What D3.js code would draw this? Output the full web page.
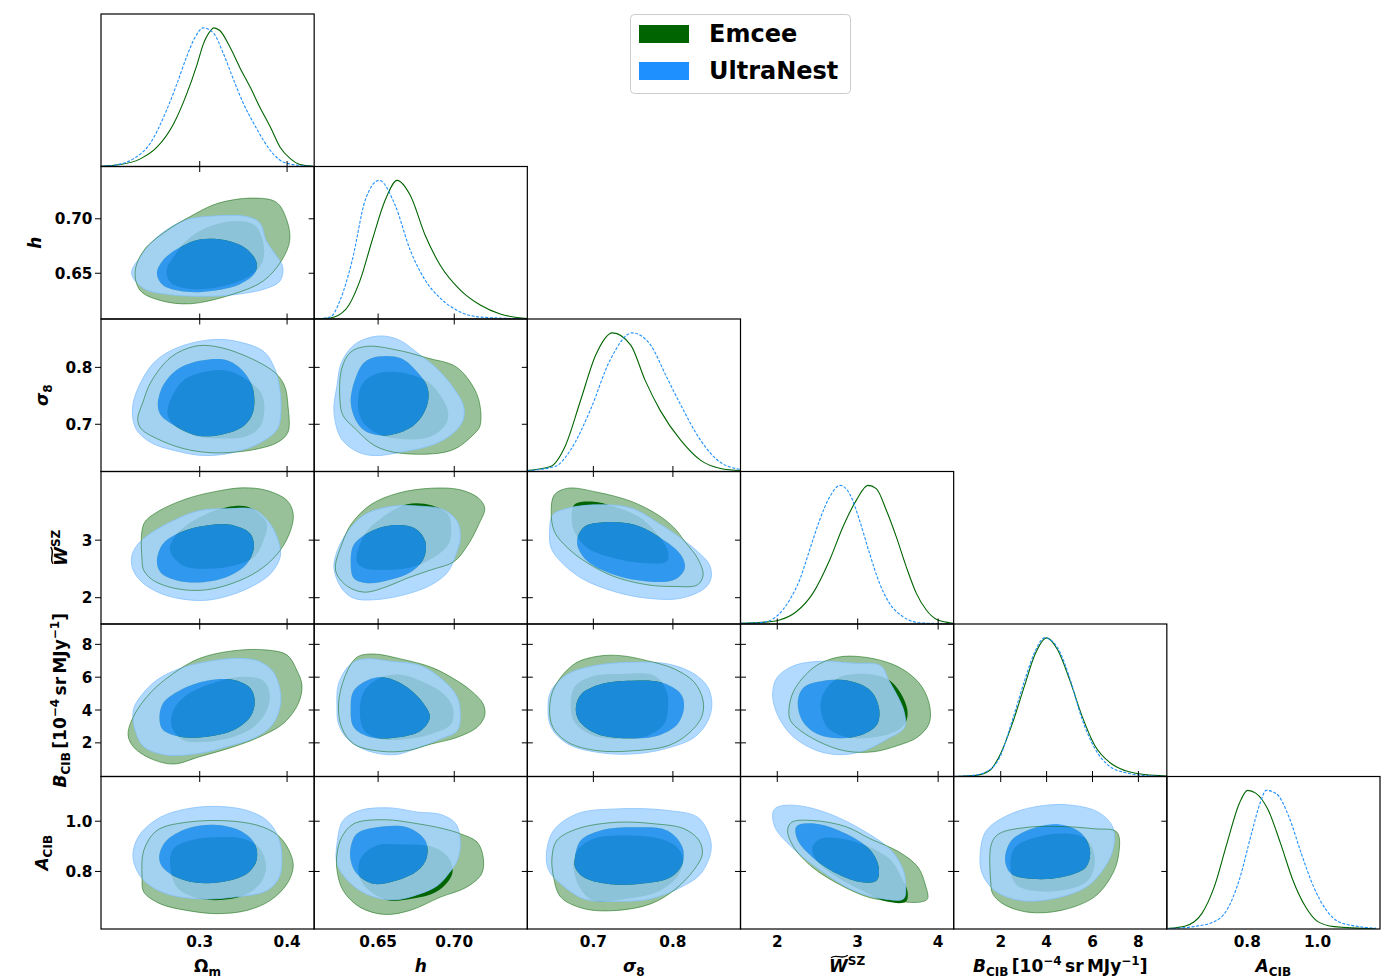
<!DOCTYPE html>
<html>
<head>
<meta charset="utf-8">
<script src="https://cdn.jsdelivr.net/npm/d3@7"></script>
<style>
  body { margin: 0; background: #fff; }
  text { font-family: "DejaVu Sans", sans-serif; font-weight: bold; }
</style>
</head>
<body>
<svg id="chart" width="1400" height="977"></svg>
<script>
// ---- parameters, ranges, ticks ----
const paramNames = ["om", "h", "s8", "w", "b", "a"];
const paramMin = [0.187, 0.608, 0.617, 1.543, -0.05, 0.571];
const paramMax = [0.431, 0.748, 0.885, 4.193, 9.24, 1.178];
const xTickValues = [[0.3, 0.4], [0.65, 0.70], [0.7, 0.8], [2, 3, 4], [2, 4, 6, 8], [0.8, 1.0]];
const xTickLabels = [["0.3", "0.4"], ["0.65", "0.70"], ["0.7", "0.8"], ["2", "3", "4"], ["2", "4", "6", "8"], ["0.8", "1.0"]];
const yTickValues = [[], [0.65, 0.70], [0.7, 0.8], [2, 3], [2, 4, 6, 8], [0.8, 1.0]];
const yTickLabels = [[], ["0.65", "0.70"], ["0.7", "0.8"], ["2", "3"], ["2", "4", "6", "8"], ["0.8", "1.0"]];
const seriesNames = ["Emcee", "UltraNest"];

// ---- 1D marginals (normalised to peak 1) ----
const om_emcee_x = [0.186, 0.209, 0.232, 0.251, 0.270, 0.285, 0.297, 0.304, 0.312, 0.316, 0.323, 0.335, 0.346, 0.358, 0.369, 0.381, 0.392, 0.404, 0.415, 0.430];
const om_emcee_y = [0.002, 0.014, 0.055, 0.139, 0.307, 0.522, 0.737, 0.881, 0.976, 1.0, 0.981, 0.857, 0.713, 0.569, 0.426, 0.283, 0.139, 0.055, 0.014, 0.002];
const om_ultra_x = [0.186, 0.205, 0.224, 0.243, 0.262, 0.274, 0.285, 0.295, 0.304, 0.316, 0.327, 0.339, 0.350, 0.362, 0.373, 0.384, 0.396, 0.415, 0.430];
const om_ultra_y = [0.002, 0.012, 0.055, 0.164, 0.405, 0.598, 0.791, 0.936, 1.0, 0.96, 0.816, 0.622, 0.454, 0.309, 0.188, 0.092, 0.031, 0.007, 0.001];
const h_emcee_x = [0.608, 0.6185, 0.6284, 0.6382, 0.6461, 0.6546, 0.6625, 0.6711, 0.6809, 0.6908, 0.704, 0.7171, 0.7302, 0.748];
const h_emcee_y = [0, 0.007, 0.065, 0.280, 0.568, 0.856, 1.0, 0.892, 0.604, 0.388, 0.209, 0.101, 0.036, 0.004];
const h_ultra_x = [0.608, 0.6185, 0.6251, 0.633, 0.6415, 0.6507, 0.6612, 0.6711, 0.6809, 0.6908, 0.704, 0.7171, 0.748];
const h_ultra_y = [0, 0.014, 0.137, 0.424, 0.856, 1.0, 0.82, 0.496, 0.280, 0.151, 0.050, 0.014, 0.001];
const s8_emcee_x = [0.617, 0.646, 0.665, 0.684, 0.703, 0.724, 0.747, 0.765, 0.784, 0.810, 0.835, 0.860, 0.886];
const s8_emcee_y = [0.007, 0.036, 0.188, 0.514, 0.84, 1.0, 0.912, 0.659, 0.441, 0.224, 0.08, 0.022, 0.007];
const s8_ultra_x = [0.617, 0.652, 0.671, 0.696, 0.721, 0.749, 0.772, 0.791, 0.810, 0.835, 0.860, 0.886];
const s8_ultra_y = [0.007, 0.036, 0.152, 0.441, 0.803, 1.0, 0.912, 0.695, 0.478, 0.224, 0.065, 0.014];
const w_emcee_x = [1.552, 1.820, 2.028, 2.236, 2.442, 2.650, 2.816, 2.982, 3.127, 3.231, 3.356, 3.480, 3.604, 3.729, 3.853, 3.977, 4.143, 4.19];
const w_emcee_y = [0.005, 0.012, 0.029, 0.088, 0.221, 0.46, 0.70, 0.892, 1.0, 0.976, 0.82, 0.628, 0.412, 0.221, 0.101, 0.034, 0.009, 0.005];
const w_ultra_x = [1.552, 1.820, 1.987, 2.153, 2.277, 2.401, 2.526, 2.650, 2.783, 2.899, 3.023, 3.148, 3.272, 3.396, 3.562, 3.729, 3.894, 4.19];
const w_ultra_y = [0.005, 0.012, 0.053, 0.173, 0.316, 0.532, 0.748, 0.915, 1.0, 0.94, 0.748, 0.508, 0.293, 0.149, 0.053, 0.012, 0.005, 0.001];
const b_emcee_x = [-0.05, 0.866, 1.52, 1.957, 2.48, 3.047, 3.483, 4.007, 4.486, 5.01, 5.533, 6.10, 6.755, 7.41, 8.28, 9.24];
const b_emcee_y = [0, 0.007, 0.043, 0.152, 0.369, 0.659, 0.876, 1.0, 0.912, 0.695, 0.441, 0.224, 0.101, 0.043, 0.014, 0.004];
const b_ultra_x = [-0.05, 0.866, 1.302, 1.957, 2.48, 3.047, 3.483, 3.919, 4.486, 5.01, 5.533, 6.10, 6.755, 7.41, 8.28, 9.24];
const b_ultra_y = [0, 0.01, 0.029, 0.138, 0.391, 0.695, 0.897, 1.0, 0.926, 0.709, 0.42, 0.203, 0.072, 0.029, 0.007, 0.001];
const a_emcee_x = [0.576, 0.624, 0.671, 0.706, 0.742, 0.777, 0.801, 0.824, 0.860, 0.895, 0.930, 0.966, 1.001, 1.048, 1.167];
const a_emcee_y = [0.005, 0.022, 0.113, 0.304, 0.616, 0.904, 1.0, 0.98, 0.856, 0.616, 0.352, 0.16, 0.053, 0.017, 0.002];
const a_ultra_x = [0.576, 0.647, 0.706, 0.742, 0.777, 0.812, 0.836, 0.854, 0.883, 0.919, 0.954, 0.989, 1.025, 1.060, 1.119, 1.167];
const a_ultra_y = [0.003, 0.017, 0.053, 0.137, 0.352, 0.688, 0.904, 1.0, 0.976, 0.807, 0.544, 0.304, 0.137, 0.053, 0.017, 0.005];

// ---- 2D contours [x, y]: e = Emcee, u = UltraNest, 95 / 68 per cent ----
const e95_om_h = [[0.226,0.651],[0.236,0.671],[0.262,0.689],[0.289,0.702],[0.320,0.714],[0.362,0.719],[0.388,0.715],[0.400,0.698],[0.403,0.680],[0.394,0.662],[0.373,0.643],[0.339,0.631],[0.289,0.622],[0.255,0.625],[0.232,0.634]];
const e68_om_h = [[0.262,0.653],[0.270,0.665],[0.285,0.680],[0.308,0.692],[0.342,0.698],[0.363,0.694],[0.373,0.677],[0.371,0.659],[0.354,0.646],[0.320,0.637],[0.285,0.636],[0.266,0.642]];
const u95_om_h = [[0.222,0.650],[0.232,0.665],[0.251,0.683],[0.281,0.698],[0.308,0.702],[0.354,0.702],[0.369,0.696],[0.376,0.680],[0.386,0.668],[0.395,0.656],[0.392,0.643],[0.376,0.636],[0.346,0.631],[0.316,0.629],[0.270,0.630],[0.236,0.636]];
const u68_om_h = [[0.251,0.650],[0.258,0.662],[0.278,0.674],[0.300,0.681],[0.331,0.680],[0.354,0.672],[0.365,0.660],[0.363,0.650],[0.346,0.640],[0.316,0.634],[0.285,0.633],[0.258,0.639]];

const e95_om_s8 = [[0.229,0.709],[0.235,0.739],[0.244,0.774],[0.267,0.818],[0.294,0.837],[0.317,0.837],[0.351,0.821],[0.386,0.791],[0.397,0.768],[0.401,0.733],[0.401,0.686],[0.389,0.668],[0.367,0.657],[0.340,0.651],[0.313,0.650],[0.282,0.657],[0.252,0.674],[0.233,0.692]];
const e68_om_s8 = [[0.263,0.721],[0.279,0.774],[0.302,0.791],[0.332,0.794],[0.355,0.777],[0.370,0.756],[0.374,0.733],[0.370,0.698],[0.355,0.680],[0.325,0.675],[0.294,0.680],[0.271,0.698]];
const u95_om_s8 = [[0.223,0.727],[0.229,0.762],[0.248,0.809],[0.275,0.835],[0.317,0.849],[0.347,0.844],[0.374,0.827],[0.386,0.797],[0.391,0.768],[0.393,0.727],[0.389,0.692],[0.370,0.668],[0.340,0.651],[0.305,0.645],[0.271,0.654],[0.244,0.668],[0.227,0.692]];
const u68_om_s8 = [[0.252,0.733],[0.258,0.768],[0.275,0.797],[0.302,0.812],[0.332,0.812],[0.351,0.791],[0.361,0.762],[0.361,0.721],[0.351,0.698],[0.328,0.683],[0.298,0.680],[0.271,0.698],[0.256,0.715]];

const e95_h_s8 = [[0.625,0.739],[0.626,0.797],[0.632,0.827],[0.643,0.837],[0.665,0.829],[0.683,0.816],[0.700,0.803],[0.709,0.780],[0.716,0.744],[0.717,0.698],[0.713,0.683],[0.698,0.654],[0.665,0.649],[0.648,0.662],[0.635,0.692],[0.627,0.715]];
const e68_h_s8 = [[0.637,0.727],[0.639,0.768],[0.648,0.788],[0.665,0.791],[0.683,0.774],[0.691,0.750],[0.696,0.721],[0.694,0.698],[0.683,0.677],[0.665,0.674],[0.650,0.683],[0.640,0.704]];
const u95_h_s8 = [[0.621,0.721],[0.623,0.768],[0.626,0.809],[0.635,0.841],[0.650,0.855],[0.663,0.849],[0.678,0.821],[0.689,0.797],[0.700,0.762],[0.706,0.733],[0.706,0.709],[0.700,0.686],[0.687,0.665],[0.665,0.651],[0.648,0.645],[0.637,0.651],[0.626,0.674]];
const u68_h_s8 = [[0.632,0.739],[0.635,0.780],[0.641,0.809],[0.650,0.819],[0.665,0.816],[0.676,0.791],[0.682,0.768],[0.683,0.744],[0.679,0.715],[0.670,0.692],[0.654,0.680],[0.641,0.689],[0.635,0.709]];

const e95_om_w = [[0.234,2.646],[0.236,3.284],[0.251,3.486],[0.285,3.719],[0.320,3.851],[0.350,3.910],[0.377,3.863],[0.400,3.689],[0.407,3.458],[0.404,3.168],[0.392,2.820],[0.373,2.530],[0.346,2.299],[0.308,2.137],[0.274,2.155],[0.247,2.299],[0.236,2.473]];
const e68_om_w = [[0.266,2.820],[0.274,3.110],[0.300,3.399],[0.331,3.573],[0.354,3.585],[0.366,3.480],[0.377,3.284],[0.373,2.994],[0.362,2.704],[0.339,2.560],[0.308,2.502],[0.281,2.560]];
const u95_om_w = [[0.222,2.704],[0.228,2.907],[0.243,3.110],[0.270,3.342],[0.300,3.515],[0.331,3.545],[0.362,3.530],[0.380,3.300],[0.391,2.937],[0.392,2.704],[0.381,2.415],[0.358,2.183],[0.327,2.009],[0.300,1.951],[0.262,2.038],[0.236,2.242],[0.224,2.473]];
const u68_om_w = [[0.251,2.646],[0.258,2.937],[0.278,3.138],[0.308,3.255],[0.339,3.255],[0.358,3.110],[0.362,2.878],[0.354,2.589],[0.335,2.386],[0.304,2.269],[0.274,2.299],[0.255,2.443]];

const e95_h_w = [[0.622,2.572],[0.626,2.919],[0.632,3.267],[0.645,3.614],[0.663,3.816],[0.685,3.903],[0.704,3.875],[0.716,3.729],[0.720,3.555],[0.716,3.267],[0.709,2.919],[0.700,2.629],[0.685,2.485],[0.669,2.339],[0.656,2.195],[0.641,2.096],[0.630,2.195],[0.623,2.398]];
const e68_h_w = [[0.636,2.629],[0.641,3.093],[0.652,3.382],[0.669,3.625],[0.685,3.605],[0.696,3.441],[0.698,3.208],[0.696,2.919],[0.682,2.629],[0.669,2.513],[0.652,2.485],[0.641,2.513]];
const u95_h_w = [[0.621,2.513],[0.623,2.803],[0.630,3.150],[0.641,3.441],[0.658,3.585],[0.678,3.590],[0.693,3.527],[0.702,3.324],[0.704,3.034],[0.701,2.745],[0.696,2.455],[0.685,2.224],[0.667,2.050],[0.647,1.964],[0.634,1.991],[0.626,2.165]];
const u68_h_w = [[0.632,2.629],[0.634,2.919],[0.643,3.121],[0.658,3.255],[0.674,3.208],[0.681,2.977],[0.680,2.686],[0.672,2.455],[0.658,2.311],[0.643,2.252],[0.634,2.339]];

const e95_s8_w = [[0.647,3.498],[0.651,3.788],[0.668,3.903],[0.705,3.833],[0.748,3.672],[0.781,3.441],[0.802,3.208],[0.815,2.977],[0.831,2.686],[0.838,2.398],[0.831,2.224],[0.802,2.195],[0.768,2.224],[0.726,2.368],[0.693,2.600],[0.668,2.860],[0.651,3.150]];
const e68_s8_w = [[0.673,3.324],[0.676,3.614],[0.697,3.672],[0.726,3.585],[0.760,3.382],[0.781,3.093],[0.794,2.803],[0.792,2.629],[0.768,2.600],[0.726,2.686],[0.693,2.860],[0.678,3.093]];
const u95_s8_w = [[0.645,3.150],[0.649,3.441],[0.668,3.555],[0.705,3.614],[0.748,3.555],[0.785,3.267],[0.810,3.034],[0.831,2.803],[0.846,2.572],[0.848,2.339],[0.840,2.165],[0.810,1.991],[0.768,1.991],[0.726,2.108],[0.685,2.339],[0.659,2.629],[0.647,2.860]];
const u68_s8_w = [[0.680,3.034],[0.689,3.237],[0.714,3.312],[0.752,3.267],[0.785,3.034],[0.810,2.745],[0.815,2.513],[0.802,2.311],[0.768,2.282],[0.726,2.398],[0.693,2.629],[0.681,2.860]];

const e95_om_b = [[0.218,2.478],[0.224,3.593],[0.243,5.018],[0.270,6.237],[0.300,7.150],[0.339,7.613],[0.377,7.656],[0.400,7.352],[0.411,6.438],[0.417,5.524],[0.413,4.409],[0.396,3.191],[0.369,2.374],[0.339,1.765],[0.300,1.156],[0.270,0.711],[0.243,1.058],[0.224,1.765]];
const e68_om_b = [[0.270,3.999],[0.285,4.915],[0.320,5.725],[0.350,6.030],[0.373,5.786],[0.380,5.018],[0.377,3.999],[0.362,2.984],[0.339,2.374],[0.308,2.070],[0.281,2.173],[0.268,2.984]];
const u95_om_b = [[0.224,3.999],[0.232,4.811],[0.251,5.828],[0.278,6.541],[0.308,6.943],[0.346,7.150],[0.369,6.943],[0.384,6.334],[0.392,5.219],[0.392,4.202],[0.383,3.087],[0.362,2.277],[0.331,1.765],[0.300,1.363],[0.262,1.260],[0.236,1.765],[0.226,2.783]];
const u68_om_b = [[0.254,3.392],[0.258,4.409],[0.278,5.219],[0.308,5.786],[0.339,5.828],[0.358,5.323],[0.363,4.507],[0.358,3.593],[0.339,2.783],[0.308,2.374],[0.278,2.374],[0.258,2.783]];

const e95_h_b = [[0.624,4.366],[0.628,5.993],[0.636,7.211],[0.647,7.412],[0.665,7.108],[0.685,6.602],[0.700,5.889],[0.711,5.177],[0.719,4.366],[0.720,3.654],[0.715,2.947],[0.702,2.338],[0.685,1.930],[0.669,1.522],[0.652,1.485],[0.634,1.930],[0.626,2.947]];
const e68_h_b = [[0.638,3.958],[0.641,5.177],[0.652,5.993],[0.665,6.151],[0.680,5.688],[0.693,4.976],[0.699,4.165],[0.698,3.148],[0.685,2.539],[0.669,2.234],[0.652,2.234],[0.641,2.740]];
const u95_h_b = [[0.623,4.165],[0.624,5.585],[0.632,6.803],[0.641,7.108],[0.658,6.968],[0.678,6.700],[0.693,5.786],[0.702,4.775],[0.704,3.556],[0.702,2.740],[0.691,2.234],[0.674,1.625],[0.661,1.278],[0.643,1.522],[0.630,2.234],[0.624,3.148]];
const u68_h_b = [[0.632,4.165],[0.634,5.177],[0.645,5.889],[0.656,5.950],[0.669,5.384],[0.680,4.366],[0.684,3.556],[0.678,2.740],[0.663,2.338],[0.645,2.338],[0.634,2.947]];

const e95_s8_b = [[0.645,4.165],[0.651,5.384],[0.676,6.803],[0.705,7.272],[0.735,7.309],[0.768,7.004],[0.802,6.499],[0.827,5.688],[0.838,4.567],[0.836,3.556],[0.819,2.539],[0.794,1.826],[0.752,1.522],[0.705,1.522],[0.668,2.033],[0.649,2.947]];
const e68_s8_b = [[0.672,3.958],[0.676,5.384],[0.697,6.030],[0.735,6.194],[0.777,6.090],[0.792,5.177],[0.794,4.165],[0.789,3.148],[0.768,2.435],[0.735,2.234],[0.701,2.435],[0.678,3.148]];
const u95_s8_b = [[0.643,4.165],[0.647,5.177],[0.668,6.194],[0.701,6.700],[0.748,6.907],[0.794,6.803],[0.827,6.194],[0.844,5.384],[0.849,4.366],[0.844,3.349],[0.827,2.338],[0.789,1.625],[0.748,1.320],[0.705,1.424],[0.668,1.930],[0.647,2.947]];
const u68_s8_b = [[0.678,4.165],[0.685,4.976],[0.710,5.585],[0.748,5.786],[0.785,5.688],[0.810,4.976],[0.814,4.165],[0.806,3.148],[0.781,2.435],[0.743,2.277],[0.705,2.539],[0.682,3.349]];

const e95_w_b = [[2.144,3.958],[2.206,5.177],[2.455,6.602],[2.746,7.211],[3.036,7.248],[3.368,6.907],[3.617,6.298],[3.803,5.384],[3.898,4.165],[3.885,3.148],[3.741,2.338],[3.492,1.826],[3.201,1.461],[2.870,1.485],[2.579,1.930],[2.289,2.740],[2.165,3.349]];
const e68_w_b = [[2.538,4.366],[2.622,5.384],[2.787,6.030],[3.119,6.194],[3.368,5.889],[3.515,5.177],[3.615,4.070],[3.605,3.350],[3.492,2.740],[3.201,2.338],[2.870,2.338],[2.622,2.947]];
const u95_w_b = [[1.945,5.177],[2.000,5.993],[2.206,6.700],[2.538,6.968],[2.952,6.846],[3.285,6.700],[3.388,5.786],[3.493,4.872],[3.574,3.940],[3.583,2.947],[3.368,2.234],[3.077,1.522],[2.787,1.278],[2.497,1.522],[2.206,2.338],[2.041,3.349],[1.957,4.366]];
const u68_w_b = [[2.256,4.567],[2.330,5.384],[2.579,5.786],[2.911,5.749],[3.160,5.177],[3.263,4.165],[3.244,3.148],[3.077,2.539],[2.787,2.277],[2.497,2.539],[2.311,3.349]];

const e95_om_a = [[0.234,0.777],[0.236,0.884],[0.251,0.963],[0.285,0.996],[0.339,1.000],[0.373,0.976],[0.392,0.936],[0.404,0.870],[0.407,0.817],[0.400,0.751],[0.381,0.685],[0.354,0.645],[0.320,0.632],[0.285,0.645],[0.255,0.671],[0.236,0.718]];
const e68_om_a = [[0.266,0.831],[0.270,0.890],[0.289,0.923],[0.320,0.936],[0.350,0.930],[0.369,0.890],[0.376,0.817],[0.369,0.751],[0.350,0.704],[0.323,0.686],[0.293,0.698],[0.274,0.737]];
const u95_om_a = [[0.224,0.884],[0.232,0.950],[0.255,1.016],[0.285,1.049],[0.320,1.059],[0.354,1.043],[0.377,1.003],[0.390,0.936],[0.394,0.857],[0.391,0.777],[0.377,0.724],[0.339,0.698],[0.300,0.691],[0.262,0.711],[0.236,0.764],[0.225,0.831]];
const u68_om_a = [[0.254,0.870],[0.262,0.923],[0.285,0.970],[0.316,0.986],[0.346,0.963],[0.363,0.910],[0.365,0.844],[0.354,0.791],[0.323,0.757],[0.293,0.757],[0.266,0.791],[0.255,0.831]];

const e95_h_a = [[0.623,0.870],[0.626,0.936],[0.634,0.990],[0.654,1.006],[0.676,0.990],[0.693,0.970],[0.704,0.950],[0.715,0.917],[0.719,0.857],[0.718,0.791],[0.708,0.737],[0.691,0.698],[0.671,0.645],[0.654,0.629],[0.638,0.658],[0.627,0.724],[0.623,0.804]];
const e68_h_a = [[0.637,0.804],[0.639,0.857],[0.649,0.903],[0.665,0.907],[0.686,0.897],[0.696,0.857],[0.699,0.804],[0.696,0.760],[0.687,0.715],[0.671,0.690],[0.658,0.683],[0.649,0.704],[0.640,0.751]];
const u95_h_a = [[0.623,0.910],[0.627,1.003],[0.638,1.043],[0.658,1.053],[0.676,1.036],[0.691,1.027],[0.701,0.990],[0.704,0.910],[0.702,0.844],[0.697,0.797],[0.689,0.744],[0.676,0.708],[0.660,0.687],[0.643,0.708],[0.630,0.764],[0.623,0.831]];
const u68_h_a = [[0.632,0.897],[0.636,0.950],[0.649,0.976],[0.669,0.976],[0.681,0.923],[0.682,0.857],[0.676,0.804],[0.662,0.764],[0.647,0.751],[0.636,0.791],[0.632,0.844]];

const e95_s8_a = [[0.648,0.857],[0.654,0.923],[0.680,0.970],[0.730,0.996],[0.776,0.990],[0.814,0.970],[0.833,0.923],[0.837,0.870],[0.826,0.804],[0.801,0.724],[0.772,0.671],[0.730,0.645],[0.688,0.652],[0.659,0.698],[0.650,0.777]];
const e68_s8_a = [[0.675,0.817],[0.680,0.884],[0.700,0.930],[0.742,0.943],[0.784,0.930],[0.805,0.897],[0.813,0.844],[0.805,0.777],[0.780,0.718],[0.742,0.691],[0.700,0.684],[0.684,0.730]];
const u95_s8_a = [[0.641,0.870],[0.650,0.963],[0.680,1.030],[0.730,1.049],[0.793,1.043],[0.831,1.016],[0.845,0.950],[0.848,0.884],[0.835,0.791],[0.810,0.737],[0.772,0.691],[0.730,0.681],[0.688,0.691],[0.659,0.751],[0.644,0.804]];
const u68_s8_a = [[0.677,0.857],[0.684,0.923],[0.709,0.963],[0.751,0.976],[0.793,0.963],[0.812,0.897],[0.812,0.831],[0.797,0.777],[0.759,0.751],[0.717,0.751],[0.688,0.777],[0.677,0.817]];

const e95_w_a = [[2.128,0.963],[2.179,0.996],[2.436,1.003],[2.848,0.979],[3.158,0.930],[3.518,0.877],[3.750,0.817],[3.837,0.751],[3.868,0.691],[3.776,0.678],[3.466,0.682],[3.158,0.695],[2.797,0.744],[2.436,0.817],[2.205,0.897]];
const e68_w_a = [[2.436,0.897],[2.539,0.930],[2.797,0.930],[3.105,0.903],[3.415,0.844],[3.543,0.777],[3.620,0.720],[3.600,0.680],[3.360,0.680],[3.054,0.724],[2.746,0.777],[2.488,0.844]];
const u95_w_a = [[1.947,1.036],[1.998,1.056],[2.231,1.063],[2.643,1.030],[3.105,0.956],[3.415,0.884],[3.569,0.804],[3.596,0.737],[3.569,0.691],[3.312,0.691],[2.951,0.724],[2.539,0.804],[2.179,0.897],[1.972,0.976]];
const u68_w_a = [[2.231,0.976],[2.308,0.990],[2.539,0.987],[2.900,0.943],[3.158,0.884],[3.261,0.817],[3.235,0.764],[3.054,0.757],[2.746,0.791],[2.436,0.857],[2.256,0.923]];

const e95_b_a = [[1.560,0.764],[1.594,0.910],[1.922,0.950],[3.182,0.976],[4.630,0.979],[6.074,0.970],[7.069,0.956],[7.121,0.857],[6.794,0.777],[6.074,0.698],[4.630,0.645],[3.182,0.638],[2.100,0.671],[1.651,0.711]];
const e68_b_a = [[2.423,0.831],[2.641,0.897],[3.544,0.936],[4.988,0.950],[5.712,0.930],[6.074,0.870],[6.040,0.804],[5.712,0.757],[4.630,0.724],[3.365,0.724],[2.641,0.751]];
const u95_b_a = [[1.106,0.870],[1.376,0.963],[2.463,1.030],[3.906,1.063],[5.171,1.063],[6.253,1.036],[6.886,0.976],[6.886,0.884],[6.436,0.804],[5.712,0.737],[4.268,0.691],[2.825,0.685],[1.738,0.724],[1.198,0.791]];
const u68_b_a = [[2.192,0.844],[2.463,0.923],[3.544,0.976],[4.630,0.987],[5.533,0.950],[5.891,0.884],[5.712,0.817],[4.630,0.777],[3.365,0.771],[2.463,0.791]];

// lookup tables built from the arrays above
const contourSets = {
  om_h: [e95_om_h, e68_om_h, u95_om_h, u68_om_h],
  om_s8: [e95_om_s8, e68_om_s8, u95_om_s8, u68_om_s8],
  h_s8: [e95_h_s8, e68_h_s8, u95_h_s8, u68_h_s8],
  om_w: [e95_om_w, e68_om_w, u95_om_w, u68_om_w],
  h_w: [e95_h_w, e68_h_w, u95_h_w, u68_h_w],
  s8_w: [e95_s8_w, e68_s8_w, u95_s8_w, u68_s8_w],
  om_b: [e95_om_b, e68_om_b, u95_om_b, u68_om_b],
  h_b: [e95_h_b, e68_h_b, u95_h_b, u68_h_b],
  s8_b: [e95_s8_b, e68_s8_b, u95_s8_b, u68_s8_b],
  w_b: [e95_w_b, e68_w_b, u95_w_b, u68_w_b],
  om_a: [e95_om_a, e68_om_a, u95_om_a, u68_om_a],
  h_a: [e95_h_a, e68_h_a, u95_h_a, u68_h_a],
  s8_a: [e95_s8_a, e68_s8_a, u95_s8_a, u68_s8_a],
  w_a: [e95_w_a, e68_w_a, u95_w_a, u68_w_a],
  b_a: [e95_b_a, e68_b_a, u95_b_a, u68_b_a]
};
const marginals = {
  om: [d3.zip(om_emcee_x, om_emcee_y), d3.zip(om_ultra_x, om_ultra_y)],
  h: [d3.zip(h_emcee_x, h_emcee_y), d3.zip(h_ultra_x, h_ultra_y)],
  s8: [d3.zip(s8_emcee_x, s8_emcee_y), d3.zip(s8_ultra_x, s8_ultra_y)],
  w: [d3.zip(w_emcee_x, w_emcee_y), d3.zip(w_ultra_x, w_ultra_y)],
  b: [d3.zip(b_emcee_x, b_emcee_y), d3.zip(b_ultra_x, b_ultra_y)],
  a: [d3.zip(a_emcee_x, a_emcee_y), d3.zip(a_ultra_x, a_ultra_y)]
};

// ---- layout ----
const n = paramNames.length;
const gridLeft = 101, gridTop = 14;
const cellW = 1279 / n, cellH = 915 / n;
const green = "#006400", greenLight = "#99c199";
const blue = "#1e90ff", blueLight = "#a5d3ff";

const svg = d3.select("#chart");
const defs = svg.append("defs");

const xScale = paramNames.map((p, j) => d3.scaleLinear()
  .domain([paramMin[j], paramMax[j]]).range([gridLeft + j * cellW, gridLeft + (j + 1) * cellW]));
const yScale = paramNames.map((p, i) => d3.scaleLinear()
  .domain([paramMin[i], paramMax[i]]).range([gridTop + (i + 1) * cellH, gridTop + i * cellH]));

function panelGroup(i, j) {
  const id = `clip-${i}-${j}`;
  defs.append("clipPath").attr("id", id).append("rect")
    .attr("x", gridLeft + j * cellW).attr("y", gridTop + i * cellH)
    .attr("width", cellW).attr("height", cellH);
  const g = svg.append("g").attr("clip-path", `url(#${id})`);
  g.append("rect").attr("x", gridLeft + j * cellW).attr("y", gridTop + i * cellH)
    .attr("width", cellW).attr("height", cellH).attr("fill", "#fff");
  return g;
}

// 2D panels
for (let i = 1; i < n; i++) {
  for (let j = 0; j < i; j++) {
    const [e95, e68, u95, u68] = contourSets[`${paramNames[j]}_${paramNames[i]}`];
    const line = d3.line()
      .x(d => xScale[j](d[0])).y(d => yScale[i](d[1]))
      .curve(d3.curveCatmullRomClosed.alpha(0.5));
    const g = panelGroup(i, j);
    g.append("path").attr("d", line(e95)).attr("fill", greenLight);
    g.append("path").attr("d", line(e68)).attr("fill", green);
    g.append("path").attr("d", line(u95) + line(u68)).attr("fill-rule", "evenodd")
      .attr("fill", blueLight).attr("fill-opacity", 0.85);
    g.append("path").attr("d", line(u68)).attr("fill", blue).attr("fill-opacity", 0.85);
    g.append("path").attr("d", line(u95)).attr("fill", "none")
      .attr("stroke", "#86c2fb").attr("stroke-width", 0.8);
    g.append("path").attr("d", line(e95)).attr("fill", "none")
      .attr("stroke", green).attr("stroke-opacity", 0.5).attr("stroke-width", 1);
  }
}

// 1D panels
for (let i = 0; i < n; i++) {
  const y1 = d3.scaleLinear().domain([0, 1.1]).range([gridTop + (i + 1) * cellH, gridTop + i * cellH]);
  const line = d3.line().x(d => xScale[i](d[0])).y(d => y1(d[1])).curve(d3.curveMonotoneX);
  const g = panelGroup(i, i);
  const [em, ul] = marginals[paramNames[i]];
  g.append("path").attr("d", line(em)).attr("fill", "none")
    .attr("stroke", green).attr("stroke-width", 1.1);
  g.append("path").attr("d", line(ul)).attr("fill", "none")
    .attr("stroke", blue).attr("stroke-width", 1.1).attr("stroke-dasharray", "3,1.6");
}

// frames and ticks
const tk = 5.5;
const tg = svg.append("g").attr("stroke", "#000").attr("stroke-width", 1);
for (let i = 0; i < n; i++) {
  for (let j = 0; j < i; j++) {
    const x0 = gridLeft + j * cellW, x1 = x0 + cellW, y0 = gridTop + i * cellH;
    xTickValues[j].forEach(v => {
      const x = xScale[j](v);
      tg.append("line").attr("x1", x).attr("x2", x).attr("y1", y0 - tk).attr("y2", y0 + tk);
    });
    yTickValues[i].forEach(v => {
      const y = yScale[i](v);
      const outer = (j + 1 < i) ? tk : 0;
      tg.append("line").attr("x1", x1 - tk).attr("x2", x1 + outer).attr("y1", y).attr("y2", y);
      if (j === 0) tg.append("line").attr("x1", x0 - 6).attr("x2", x0).attr("y1", y).attr("y2", y);
    });
  }
}
for (let i = 0; i < n; i++) {
  for (let j = 0; j <= i; j++) {
    svg.append("rect").attr("x", gridLeft + j * cellW).attr("y", gridTop + i * cellH)
      .attr("width", cellW).attr("height", cellH)
      .attr("fill", "none").attr("stroke", "#000").attr("stroke-width", 1.2);
  }
}

// tick labels
const tickFont = 15.3;
const bottomY = gridTop + n * cellH;
paramNames.forEach((p, j) => {
  xTickValues[j].forEach((v, k) => {
    svg.append("text").attr("x", xScale[j](v)).attr("y", bottomY + 17.8)
      .attr("text-anchor", "middle").attr("font-size", tickFont).text(xTickLabels[j][k]);
  });
});
const tickLeft = [];
for (let i = 1; i < n; i++) {
  const tl = svg.append("g");
  yTickValues[i].forEach((v, k) => {
    tl.append("text").attr("x", gridLeft - 8.5).attr("y", yScale[i](v)).attr("dy", "0.36em")
      .attr("text-anchor", "end").attr("font-size", tickFont).text(yTickLabels[i][k]);
  });
  tickLeft[i] = tl.node().getBBox().x;
}

// axis labels (mathtext-like)
const labelFont = 17, subFont = 12;
function writeLabel(text, key) {
  const it = (s) => text.append("tspan").attr("font-style", "italic").text(s);
  const sub = (s) => { text.append("tspan").attr("font-size", subFont).attr("dy", 4).text(s); };
  const back = (s, d) => text.append("tspan").attr("dy", d).text(s);
  const sup = (s) => { text.append("tspan").attr("font-size", subFont).attr("dy", -7).text(s); };
  if (key === "om") { text.append("tspan").text("Ω"); sub("m"); }
  if (key === "h") { it("h"); }
  if (key === "s8") { it("σ"); sub("8"); }
  if (key === "w") { it("W"); sup("SZ"); }
  if (key === "b") {
    it("B"); sub("CIB"); back("\u2009[10", -4); sup("−4");
    back("\u2009sr\u2009MJy", 7); sup("−1"); back("]", 7);
  }
  if (key === "a") { it("A"); sub("CIB"); }
  if (key === "w") {
    const ext = text.node().getExtentOfChar(0);
    const x0 = ext.x + 2, x1 = ext.x + ext.width, yb = ext.y + 1;
    const w = x1 - x0;
    d3.select(text.node().parentNode).append("path")
      .attr("d", `M${x0},${yb + 1.2} C${x0 + w * 0.3},${yb - 3} ${x0 + w * 0.65},${yb + 3.5} ${x1},${yb - 1.2}`)
      .attr("fill", "none").attr("stroke", "#000").attr("stroke-width", 1.4);
  }
}

paramNames.forEach((p, j) => {
  const g = svg.append("g");
  const t = g.append("text").attr("x", gridLeft + (j + 0.5) * cellW).attr("y", bottomY + 42.5)
    .attr("text-anchor", "middle").attr("font-size", labelFont);
  writeLabel(t, p);
});

const labelGap = [10, 10, 10, 11, 9, 10];
for (let i = 1; i < n; i++) {
  const cy = gridTop + (i + 0.5) * cellH;
  const g = svg.append("g").attr("transform", `translate(40,${cy}) rotate(-90)`);
  const t = g.append("text").attr("x", 0).attr("y", 0)
    .attr("text-anchor", "middle").attr("font-size", labelFont);
  writeLabel(t, paramNames[i]);
  const r = g.node().getBoundingClientRect();
  const shift = (tickLeft[i] - labelGap[i]) - r.right;
  g.attr("transform", `translate(${40 + shift},${cy}) rotate(-90)`);
}

// legend
const lg = svg.append("g");
lg.append("rect").attr("x", 630.5).attr("y", 14.5).attr("width", 220).attr("height", 79)
  .attr("rx", 4).attr("fill", "#fff").attr("stroke", "#cccccc").attr("stroke-width", 1);
[green, blue].forEach((c, k) => {
  lg.append("rect").attr("x", 639).attr("y", 25 + k * 37).attr("width", 50).attr("height", 18).attr("fill", c);
  lg.append("text").attr("x", 709).attr("y", 42 + k * 37).attr("font-size", 24).text(seriesNames[k]);
});
</script>
</body>
</html>
